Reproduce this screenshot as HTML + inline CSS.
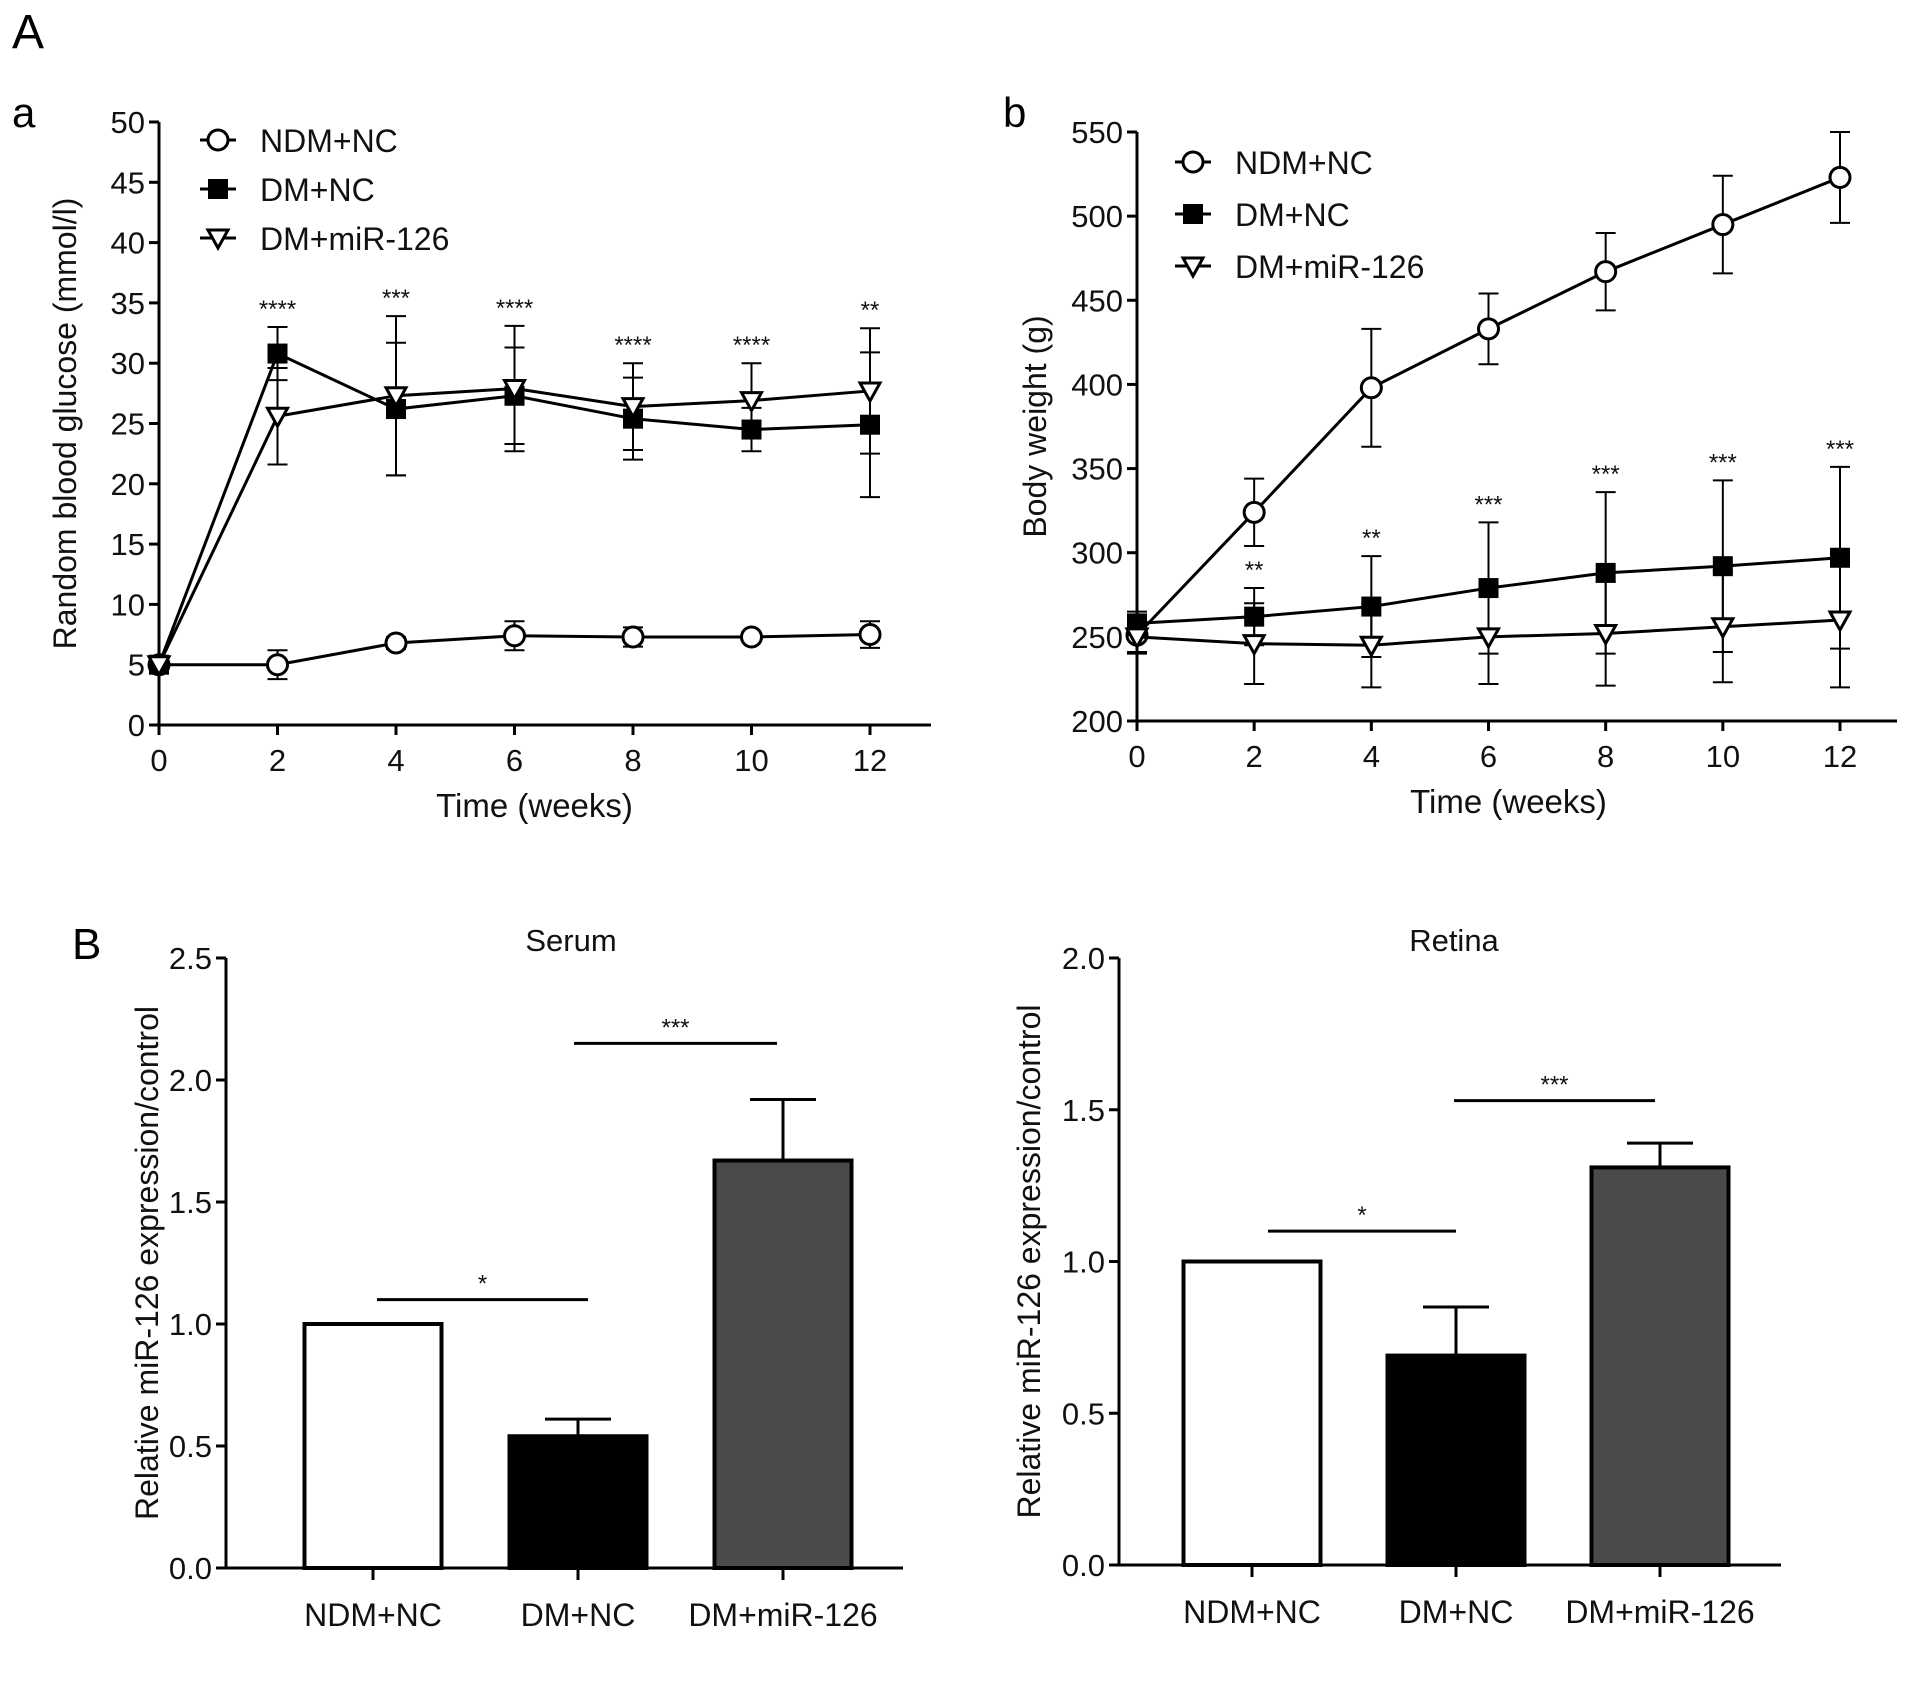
<!DOCTYPE html>
<html><head><meta charset="utf-8"><style>
html,body{margin:0;padding:0;background:#fff;}
svg{display:block;font-family:"Liberation Sans",Arial,sans-serif;}
</style></head><body>
<svg id="fig" width="1913" height="1689" viewBox="0 0 1913 1689" xmlns="http://www.w3.org/2000/svg">
<rect x="0" y="0" width="1913" height="1689" fill="#fff"/>
<text x="12" y="48" font-size="48">A</text>
<text x="12" y="127" font-size="42">a</text>
<text x="1003" y="127" font-size="42">b</text>
<text x="72" y="959" font-size="44">B</text>
</svg>
<script>
// ---- Chart a data ----
const weeks = [0,2,4,6,8,10,12];
const xTicksLine = [0,2,4,6,8,10,12];
const glucNDM = [5,5,6.8,7.4,7.3,7.3,7.5];
const glucNDMErr = [0.3,1.2,0.5,1.2,0.8,0.4,1.1];
const glucDM = [5,30.8,26.2,27.3,25.4,24.5,24.9];
const glucDMErr = [0.3,2.2,5.5,4.0,3.4,1.8,6.0];
const glucMiR = [5,25.6,27.3,27.9,26.4,26.9,27.7];
const glucMiRErr = [0.3,4.0,6.6,5.2,3.6,3.1,5.2];
const glucStars = ['','****','***','****','****','****','**'];
const glucTicks = [0,5,10,15,20,25,30,35,40,45,50];
// ---- Chart b data ----
const bwNDM = [251,324,398,433,467,495,523];
const bwNDMErr = [10,20,35,21,23,29,27];
const bwDM = [258,262,268,279,288,292,297];
const bwDMErr = [7,17,30,39,48,51,54];
const bwMiR = [250,246,245,250,252,256,260];
const bwMiRErr = [10,24,25,28,31,33,40];
const bwStars = ['','**','**','***','***','***','***'];
const bwTicks = [200,250,300,350,400,450,500,550];
// ---- Bar data ----
const barCats = ['NDM+NC','DM+NC','DM+miR-126'];
const serumVals = [1.0,0.54,1.67];
const serumErr = [0,0.07,0.25];
const serumTicks = [0.0,0.5,1.0,1.5,2.0,2.5];
const retinaVals = [1.0,0.69,1.31];
const retinaErr = [0,0.16,0.08];
const retinaTicks = [0.0,0.5,1.0,1.5,2.0];

const NS='http://www.w3.org/2000/svg';
const svg=document.getElementById('fig');
function mk(tag,attrs,parent){const e=document.createElementNS(NS,tag);for(const k in attrs)e.setAttribute(k,attrs[k]);(parent||svg).appendChild(e);return e;}
function line(g,x1,y1,x2,y2,w){return mk('line',{x1,y1,x2,y2,stroke:'#000','stroke-width':w||3},g);}
function txt(g,x,y,s,size,anchor){const t=mk('text',{x,y,'font-size':size,'text-anchor':anchor||'middle',fill:'#111'},g);t.textContent=s;return t;}
function marker(g,type,x,y){
  if(type==='circle') return mk('circle',{cx:x,cy:y,r:10,fill:'#fff',stroke:'#000','stroke-width':3},g);
  if(type==='square') return mk('rect',{x:x-10,y:y-10,width:20,height:20,fill:'#000'},g);
  return mk('polygon',{points:`${x-10},${y-8} ${x+10},${y-8} ${x},${y+10}`,fill:'#fff',stroke:'#000','stroke-width':3},g);
}

function lineChart(o){
  const g=mk('g',{});
  
  
  const X=v=>o.x0+(v-0)/12*(o.x1-o.x0);
  const Y=v=>o.yb-(v-o.ymin)/(o.ymax-o.ymin)*(o.yb-o.yt);
  const ax=mk('g',{},g);
  
  
  line(ax,o.x0,o.yt,o.x0,o.yb+10);
  o.yticks.forEach(v=>{line(ax,o.x0-10,Y(v),o.x0,Y(v));const t=txt(ax,o.x0-14,Y(v)+11,String(v),31,'end');});
  const xa=mk('g',{},g);
  
  
  line(xa,o.x0-1,o.yb,o.xend,o.yb);
  xTicksLine.forEach(v=>{line(xa,X(v),o.yb,X(v),o.yb+10);const t=txt(xa,X(v),o.yb+46,String(v),31);});
  const xt=txt(g,(o.x0+o.x1)/2+20,o.yb+92,'Time (weeks)',33);
  
  
  const yt=txt(g,0,0,o.ylabel,32);
  yt.setAttribute('transform',`translate(${o.ylx},${(o.yt+o.yb)/2}) rotate(-90)`);
  
  
  o.series.forEach(s=>{
    const sg=mk('g',{},g);
    
    
    weeks.forEach((w,i)=>{
      const e=s.err[i];
      line(sg,X(w),Y(s.vals[i]-e),X(w),Y(s.vals[i]+e),2);
      line(sg,X(w)-10,Y(s.vals[i]+e),X(w)+10,Y(s.vals[i]+e),2);
      line(sg,X(w)-10,Y(s.vals[i]-e),X(w)+10,Y(s.vals[i]-e),2);
    });
    mk('polyline',{points:weeks.map((w,i)=>X(w)+','+Y(s.vals[i])).join(' '),fill:'none',stroke:'#000','stroke-width':3},sg);
    weeks.forEach((w,i)=>{const m=marker(sg,s.type,X(w),Y(s.vals[i]));});
  });
  o.stars.forEach((s,i)=>{
    if(!s)return;
    let top=Math.max(...o.starSeries.map(ser=>ser.vals[i]+ser.err[i]));
    const t=txt(g,X(weeks[i]),Y(top)-10,s,24);
    
    
  });
  const lg=mk('g',{},g);
  
  
  o.series.forEach((s,k)=>{
    const y=o.legY+k*o.legDy;
    const eg=mk('g',{},lg);
    
    
    line(eg,o.legX,y,o.legX+36,y,3);
    marker(eg,s.type,o.legX+18,y);
    txt(eg,o.legX+60,y+12,s.label,32,'start');
  });
}

lineChart({name:'glucose-chart',x0:159,x1:870,xend:931,yt:122,yb:725,ymin:0,ymax:50,yticks:glucTicks,
  ylabel:'Random blood glucose (mmol/l)',ylx:76,
  series:[{key:'ndm',type:'circle',vals:glucNDM,err:glucNDMErr,label:'NDM+NC'},
          {key:'dm',type:'square',vals:glucDM,err:glucDMErr,label:'DM+NC'},
          {key:'mir',type:'tri',vals:glucMiR,err:glucMiRErr,label:'DM+miR-126'}],
  starSeries:[{vals:glucDM,err:glucDMErr},{vals:glucMiR,err:glucMiRErr}],
  stars:glucStars,legX:200,legY:140,legDy:49});

lineChart({name:'body-weight-chart',x0:1137,x1:1840,xend:1897,yt:132,yb:721,ymin:200,ymax:550,yticks:bwTicks,
  ylabel:'Body weight (g)',ylx:1046,
  series:[{key:'ndm',type:'circle',vals:bwNDM,err:bwNDMErr,label:'NDM+NC'},
          {key:'dm',type:'square',vals:bwDM,err:bwDMErr,label:'DM+NC'},
          {key:'mir',type:'tri',vals:bwMiR,err:bwMiRErr,label:'DM+miR-126'}],
  starSeries:[{vals:bwDM,err:bwDMErr}],
  stars:bwStars,legX:1175,legY:162,legDy:52});

function barChart(o){
  const g=mk('g',{});
  
  
  const Y=v=>o.yb-v/o.ymax*(o.yb-o.yt);
  const ax=mk('g',{},g);
  
  
  line(ax,o.x0,o.yt,o.x0,o.yb);
  o.ticks.forEach(v=>{line(ax,o.x0-10,Y(v),o.x0,Y(v));const t=txt(ax,o.x0-14,Y(v)+11,v.toFixed(1),31,'end');});
  const xa=mk('g',{},g);
  
  
  line(xa,o.x0-1,o.yb,o.xend,o.yb);
  const fills=['#fff','#000','#4a4a4a'];
  const cx=[];
  o.vals.forEach((v,i)=>{
    const c=o.first+i*o.step; cx.push(c);
    const top=Y(v);
    const e=o.err[i];
    if(e>0){line(g,c,Y(v+e),c,top,3);line(g,c-33,Y(v+e),c+33,Y(v+e),3);}
    const r=mk('rect',{x:c-o.bw/2,y:top,width:o.bw,height:o.yb-top,fill:fills[i],stroke:'#000','stroke-width':4},g);
    
    
    line(xa,c,o.yb,c,o.yb+12);
    const t=txt(xa,c,o.yb+58,barCats[i],32);
    
    
  });
  o.sig.forEach(s=>{
    const sg=mk('g',{},g);
    
    
    line(sg,cx[s.a]+s.da,Y(s.y),cx[s.b]+s.db,Y(s.y),3);
    txt(sg,(cx[s.a]+s.da+cx[s.b]+s.db)/2,Y(s.y)-8,s.label,24);
  });
  const tt=txt(g,o.titleX,951,o.title,31);
  
  
  const yt=txt(g,0,0,'Relative miR-126 expression/control',32);
  yt.setAttribute('transform',`translate(${o.ylx},${(o.yt+o.yb)/2}) rotate(-90)`);
  
  
}

barChart({name:'serum-bar-chart',x0:226,xend:903,yt:958,yb:1568,ymax:2.5,ticks:serumTicks,vals:serumVals,err:serumErr,
  first:373,step:205,bw:137,title:'Serum',titleX:571,ylx:158,
  sig:[{a:0,b:1,da:4,db:10,y:1.1,label:'*'},{a:1,b:2,da:-4,db:-6,y:2.15,label:'***'}]});
barChart({name:'retina-bar-chart',x0:1119,xend:1781,yt:958,yb:1565,ymax:2.0,ticks:retinaTicks,vals:retinaVals,err:retinaErr,
  first:1252,step:204,bw:137,title:'Retina',titleX:1454,ylx:1040,
  sig:[{a:0,b:1,da:16,db:0,y:1.1,label:'*'},{a:1,b:2,da:-2,db:-5,y:1.53,label:'***'}]});
</script>
</body></html>
